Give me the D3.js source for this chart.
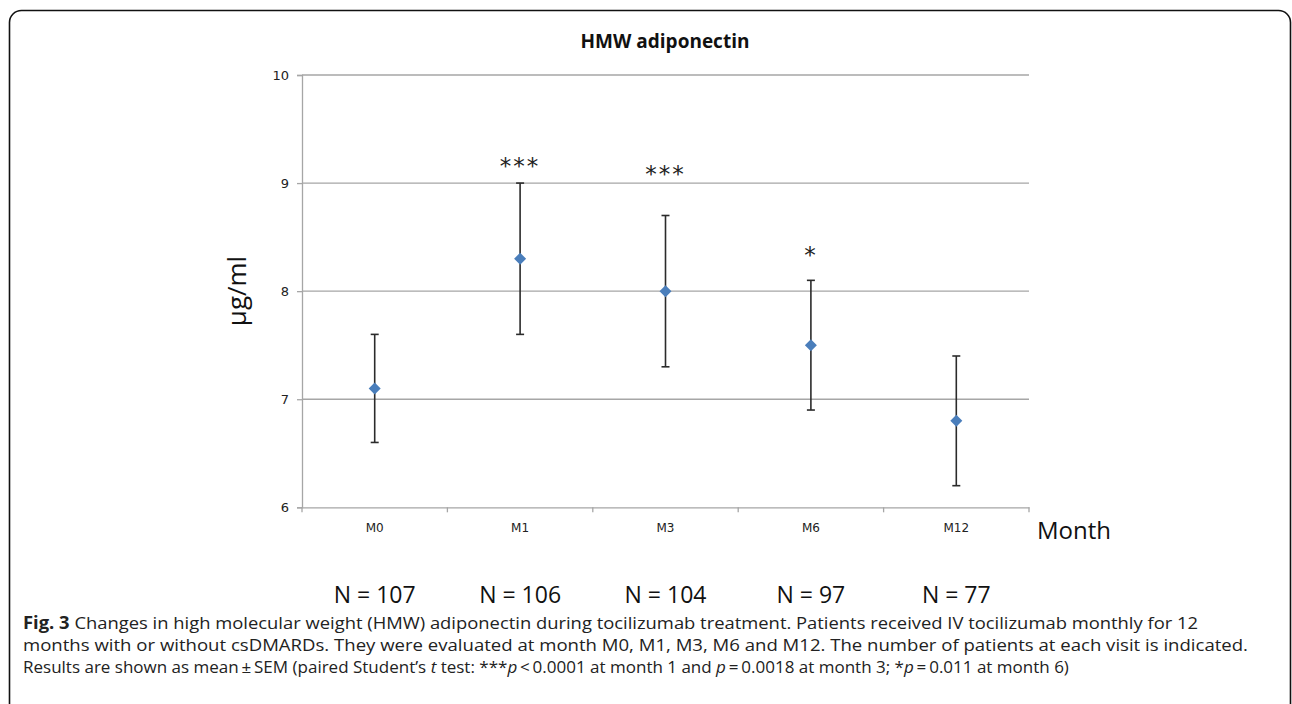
<!DOCTYPE html>
<html><head><meta charset="utf-8">
<script src="https://cdn.jsdelivr.net/npm/d3@7"></script>
<style>body{margin:0;background:#fff}svg{display:block}</style>
</head><body>
<svg id="c" width="1292" height="704"></svg>
<script>
const categories = ["M0","M1","M3","M6","M12"];
const means = [7.1, 8.3, 8.0, 7.5, 6.8];
const upper = [7.6, 9.0, 8.7, 8.1, 7.4];
const lower = [6.6, 7.6, 7.3, 6.9, 6.2];
const stars = ["", "***", "***", "*", ""];
const nLabels = ["N = 107","N = 106","N = 104","N = 97","N = 77"];
const yTicks = [6,7,8,9,10];

const svg = d3.select("#c");
const grid = "#a6a6a6";
// frame
svg.append("rect").attr("x",9.5).attr("y",10.5).attr("width",1281).attr("height",720)
  .attr("rx",12).attr("fill","none").attr("stroke","#111").attr("stroke-width",1.6);

const L=302, R=1029, T=75, B=507.3;
const x = d3.scaleBand().domain(categories).range([L,R]);
const y = d3.scaleLinear().domain([6,10]).range([B,T]);

// gridlines
svg.append("g").selectAll("line").data(yTicks.slice(1)).join("line")
  .attr("x1",L).attr("x2",R).attr("y1",d=>y(d)).attr("y2",d=>y(d))
  .attr("stroke",grid).attr("stroke-width",1.3);

// y axis
const ya = svg.append("g").attr("transform",`translate(${L},0)`)
  .call(d3.axisLeft(y).tickValues(yTicks).tickFormat(d3.format("d")).tickSize(5).tickPadding(8));
ya.select(".domain").attr("stroke",grid).attr("stroke-width",1.3);
ya.selectAll(".tick line").attr("stroke",grid).attr("stroke-width",1.3);
ya.selectAll("text").attr("font-family","DejaVu Sans").attr("font-size",13).attr("fill","#222");

// x axis
const xa = svg.append("g").attr("transform",`translate(0,${B})`)
  .call(d3.axisBottom(x).tickSize(0).tickPadding(16));
xa.select(".domain").attr("stroke",grid).attr("stroke-width",1.3);
xa.selectAll("text").attr("font-family","DejaVu Sans").attr("font-size",12).attr("fill","#222");
const bounds = categories.map(c=>x(c)).concat([R]);
svg.append("g").selectAll("line").data(bounds).join("line")
  .attr("x1",d=>d).attr("x2",d=>d).attr("y1",B).attr("y2",B+5)
  .attr("stroke",grid).attr("stroke-width",1.3);

const cx = c => x(c)+x.bandwidth()/2;
// error bars
const eb = svg.append("g").attr("stroke","#2b2b2b").attr("stroke-width",1.6);
categories.forEach((c,i)=>{
  eb.append("line").attr("x1",cx(c)).attr("x2",cx(c)).attr("y1",y(upper[i])).attr("y2",y(lower[i]));
  eb.append("line").attr("x1",cx(c)-4).attr("x2",cx(c)+4).attr("y1",y(upper[i])).attr("y2",y(upper[i]));
  eb.append("line").attr("x1",cx(c)-4).attr("x2",cx(c)+4).attr("y1",y(lower[i])).attr("y2",y(lower[i]));
});
// diamonds
svg.append("g").selectAll("path").data(categories).join("path")
  .attr("d",d3.symbol(d3.symbolSquare, 72))
  .attr("transform",(c,i)=>`translate(${cx(c)},${y(means[i])}) rotate(45)`)
  .attr("fill","#4a7ebb");

// stars
const starY = [0, 9.18, 9.1, 8.35, 0];
svg.append("g").selectAll("text").data(categories).join("text")
  .attr("x",c=>cx(c)).attr("y",(c,i)=>y(starY[i])+10)
  .attr("text-anchor","middle").attr("font-family","DejaVu Sans").attr("font-size",23)
  .attr("letter-spacing",2).attr("fill","#222")
  .text((c,i)=>stars[i]);

// title
svg.append("text").attr("x",665).attr("y",48).attr("text-anchor","middle")
  .attr("font-family","Open Sans").attr("font-weight","bold").attr("font-size",19).attr("fill","#111")
  .text("HMW adiponectin");
// y label
svg.append("text").attr("transform","translate(246,291) rotate(-90)").attr("text-anchor","middle")
  .attr("font-family","Open Sans").attr("font-size",26).attr("fill","#111").text("μg/ml");
// Month
svg.append("text").attr("x",1037).attr("y",539)
  .attr("font-family","Open Sans").attr("font-size",24).attr("fill","#111").text("Month");
// N labels
svg.append("g").selectAll("text").data(categories).join("text")
  .attr("x",c=>cx(c)).attr("y",603).attr("text-anchor","middle")
  .attr("font-family","Open Sans").attr("font-size",23).attr("fill","#111")
  .text((c,i)=>nLabels[i]);

// caption
const cap = svg.append("g").attr("font-family","Open Sans").attr("font-size",17).attr("fill","#222");
const l1 = cap.append("text").attr("x",23).attr("y",629).attr("textLength",1175).attr("lengthAdjust","spacingAndGlyphs");
l1.append("tspan").attr("font-weight","bold").text("Fig. 3");
l1.append("tspan").text(" Changes in high molecular weight (HMW) adiponectin during tocilizumab treatment. Patients received IV tocilizumab monthly for 12");
cap.append("text").attr("x",23).attr("y",651).attr("textLength",1225).attr("lengthAdjust","spacingAndGlyphs")
  .text("months with or without csDMARDs. They were evaluated at month M0, M1, M3, M6 and M12. The number of patients at each visit is indicated.");
const l3 = cap.append("text").attr("x",23).attr("y",673);
l3.append("tspan").text("Results are shown as mean\u2009±\u2009SEM (paired Student’s ");
l3.append("tspan").attr("font-style","italic").text("t");
l3.append("tspan").text(" test: ***");
l3.append("tspan").attr("font-style","italic").text("p");
l3.append("tspan").text("\u2009<\u20090.0001 at month 1 and ");
l3.append("tspan").attr("font-style","italic").text("p");
l3.append("tspan").text("\u2009=\u20090.0018 at month 3; *");
l3.append("tspan").attr("font-style","italic").text("p");
l3.append("tspan").text("\u2009=\u20090.011 at month 6)");
</script>
</body></html>
